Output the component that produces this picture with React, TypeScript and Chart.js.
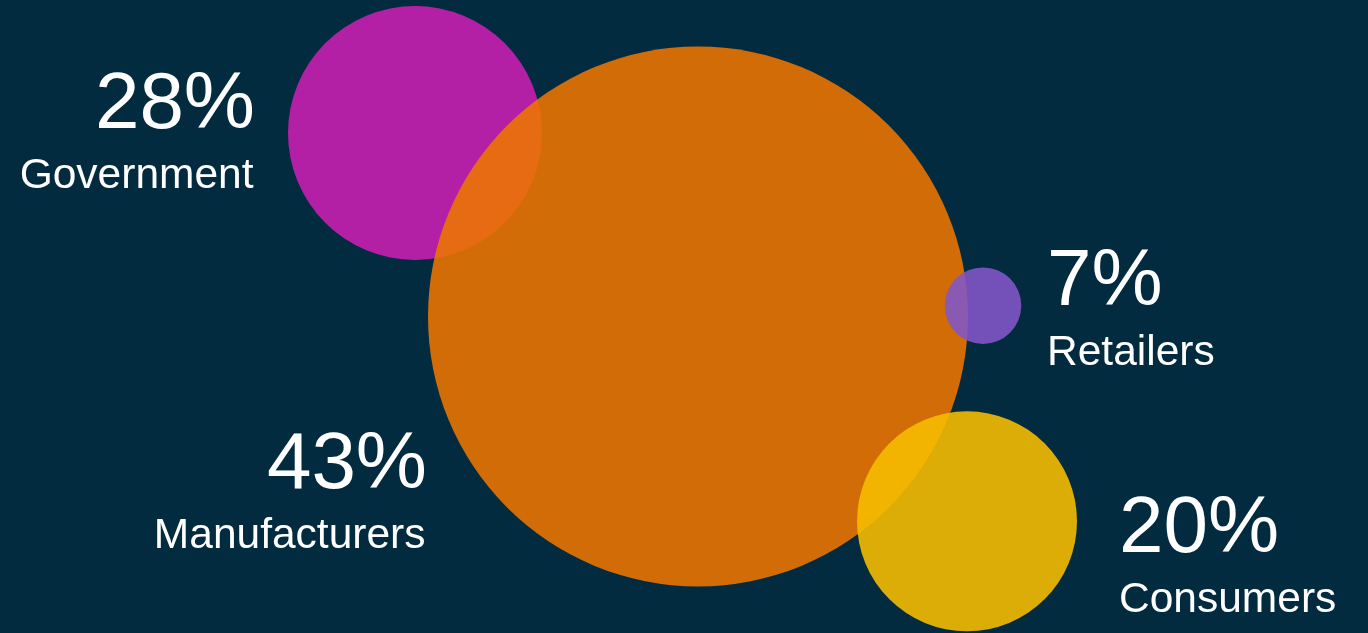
import { useEffect, useRef } from "react";
import { Chart, registerables } from "chart.js";

Chart.register(...registerables);

// ---- data ----
const categories = ["Government", "Manufacturers", "Retailers", "Consumers"];
const shares = [28, 43, 7, 20];
const bubbleX = [415, 698, 983, 967];
const bubbleY = [133, 316.5, 305.7, 521.3];
const bubbleR = [127, 270, 38.3, 110];
const bubbleColors = [
  "rgba(201,32,177,0.89)",
  "rgba(236,117,0,0.89)",
  "rgba(129,87,200,0.89)",
  "rgba(247,189,0,0.89)",
];
const labelX = [255, 427, 1047, 1119];
const labelY = [128, 488, 305, 552];
const labelAlign = ["right", "right", "left", "left"];

const BG = "#022b40";
const FONT = "'Liberation Sans', Arial, Helvetica, sans-serif";

const labelsPlugin = {
  id: "bubbleLabels",
  beforeDraw(chart: any) {
    const { ctx, width, height } = chart;
    ctx.save();
    ctx.fillStyle = BG;
    ctx.fillRect(0, 0, width, height);
    ctx.restore();
  },
  afterDatasetsDraw(chart: any) {
    const { ctx, scales } = chart;
    ctx.save();
    ctx.fillStyle = "#ffffff";
    ctx.textBaseline = "alphabetic";
    categories.forEach((name, i) => {
      const px = scales.x.getPixelForValue(labelX[i]);
      const py = scales.y.getPixelForValue(labelY[i]);
      ctx.textAlign = labelAlign[i];
      ctx.font = `80px ${FONT}`;
      ctx.fillText(`${shares[i]}%`, px, py);
      ctx.font = `42.5px ${FONT}`;
      ctx.fillText(name, px - (labelAlign[i] === "right" ? 1.5 : 0), py + 60);
    });
    ctx.restore();
  },
};

export default function App() {
  const ref = useRef<HTMLCanvasElement | null>(null);
  useEffect(() => {
    document.body.style.margin = "0";
    document.body.style.background = BG;
    const chart = new Chart(ref.current as HTMLCanvasElement, {
      type: "bubble",
      data: {
        datasets: [
          {
            label: "Share",
            data: categories.map((_, i) => ({ x: bubbleX[i], y: bubbleY[i], r: bubbleR[i] })),
            backgroundColor: bubbleColors,
            hoverBackgroundColor: bubbleColors,
            borderWidth: 0,
            hoverBorderWidth: 0,
            clip: false as any,
          },
        ],
      },
      options: {
        responsive: false,
        animation: false,
        layout: { padding: 0, autoPadding: false },
        scales: {
          x: { type: "linear", min: 0, max: 1368, display: false },
          y: { type: "linear", min: 0, max: 633, reverse: true, display: false },
        },
        plugins: {
          legend: { display: false },
          tooltip: { enabled: false },
        },
        events: [],
      },
      plugins: [labelsPlugin],
    });
    return () => chart.destroy();
  }, []);
  return (
    <div style={{ position: "absolute", left: 0, top: 0, width: 1368, height: 633, background: BG }}>
      <canvas ref={ref} width={1368} height={633} style={{ display: "block" }} />
    </div>
  );
}
